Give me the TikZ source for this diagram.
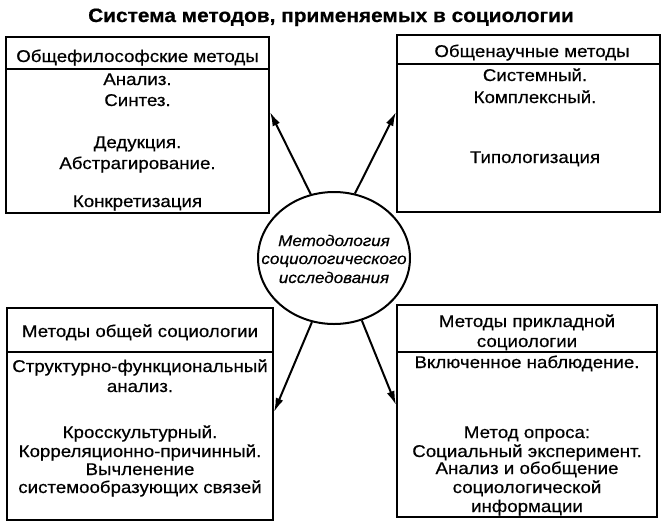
\documentclass[tikz,border=0pt]{standalone}
\usepackage{fontspec}
\setmainfont{Liberation Sans}[FakeStretch=1.1, FakeBold=0.5]
\newfontfamily\titlefont{Liberation Sans Bold}[FakeStretch=1.08, FakeBold=0.6]
\usetikzlibrary{arrows.meta,shapes.geometric}
\tikzset{
  box/.style={draw, line width=2pt, rectangle, inner sep=0pt},
  sep/.style={line width=1.4pt},
  txt/.style={anchor=base, inner sep=0pt, font=\fontsize{17}{19}\selectfont},
  etxt/.style={anchor=base, inner sep=0pt, font=\fontsize{15.5}{19}\selectfont\itshape},
  arr/.style={line width=2pt, -{Latex[length=14pt,width=8pt]}},
}
\begin{document}
\begin{tikzpicture}[x=1pt,y=-1pt]
\useasboundingbox (0,0) rectangle (666,528);
% title
\node[anchor=base, inner sep=0pt, font=\fontsize{19.3}{22}\titlefont] (title) at (331,22) {Система методов, применяемых в социологии};
% boxes
\node[box, minimum width=263pt, minimum height=176pt] (tl) at (137.5,125) {};
\node[box, minimum width=263pt, minimum height=177pt] (tr) at (528.5,123.5) {};
\node[box, minimum width=266pt, minimum height=212pt] (bl) at (140,414) {};
\node[box, minimum width=260pt, minimum height=212pt] (br) at (527,411) {};
\draw[sep] (tl.west |- 0,69) -- (tl.east |- 0,69);
\draw[sep] (tr.west |- 0,64) -- (tr.east |- 0,64);
\draw[sep] (bl.west |- 0,352) -- (bl.east |- 0,352);
\draw[sep] (br.west |- 0,352) -- (br.east |- 0,352);
% ellipse
\node[draw, ellipse, line width=2pt, minimum width=152pt, minimum height=132pt, inner sep=0pt] (e) at (334,258) {};
\node[etxt] (e1) at (334,246) {Методология};
\node[etxt] (e2) at (334,264) {социологического};
\node[etxt] (e3) at (334,283) {исследования};
% top-left texts
\node[txt] (tlh) at (137.5,62) {Общефилософские методы};
\node[txt] (tl1) at (137.5,85) {Анализ.};
\node[txt] (tl2) at (137.5,106) {Синтез.};
\node[txt] (tl3) at (137.5,148) {Дедукция.};
\node[txt] (tl4) at (137.5,169) {Абстрагирование.};
\node[txt] (tl5) at (137.5,207) {Конкретизация};
% top-right texts
\node[txt] (trh) at (532,57) {Общенаучные методы};
\node[txt] (tr1) at (535,81) {Системный.};
\node[txt] (tr2) at (535,103) {Комплексный.};
\node[txt] (tr3) at (535,163) {Типологизация};
% bottom-left texts
\node[txt] (blh) at (140,337) {Методы общей социологии};
\node[txt] (bl1) at (140,372) {Структурно-функциональный};
\node[txt] (bl2) at (140,392) {анализ.};
\node[txt] (bl3) at (140,438) {Кросскультурный.};
\node[txt] (bl4) at (140,457) {Корреляционно-причинный.};
\node[txt] (bl5) at (140,475) {Вычленение};
\node[txt] (bl6) at (140,493) {системообразующих связей};
% bottom-right texts
\node[txt] (brh1) at (527,327) {Методы прикладной};
\node[txt] (brh2) at (527,347) {социологии};
\node[txt] (br1) at (527,368) {Включенное наблюдение.};
\node[txt] (br2) at (527,438) {Метод опроса:};
\node[txt] (br3) at (527,457) {Социальный эксперимент.};
\node[txt] (br4) at (527,474) {Анализ и обобщение};
\node[txt] (br5) at (527,493) {социологической};
\node[txt] (br6) at (527,512) {информации};
% arrows
\coordinate (tltip) at (tl.east |- 0,112);
\coordinate (trtip) at (tr.west |- 0,112);
\coordinate (bltip) at (bl.east |- 0,412);
\coordinate (brtip) at (br.west |- 0,405);
\draw[arr] (e.110) -- (tltip);
\draw[arr] (e.72) -- (trtip);
\draw[arr] (e.251) -- (bltip);
\draw[arr] (e.294) -- (brtip);
\end{tikzpicture}
\end{document}
